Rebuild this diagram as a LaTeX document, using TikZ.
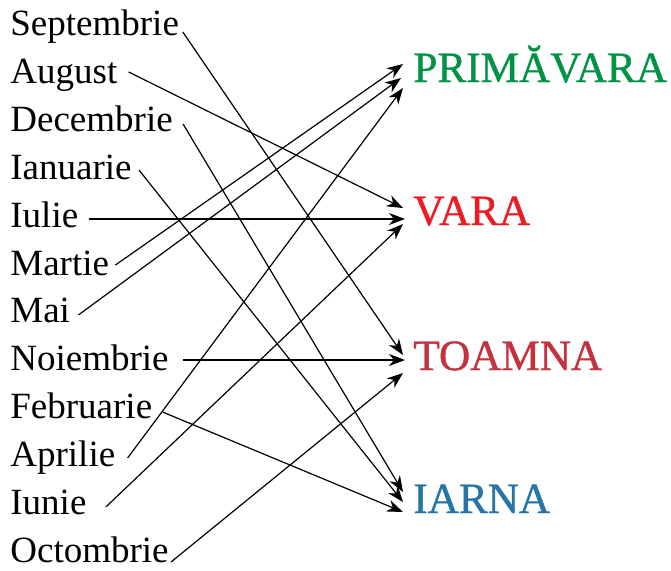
\documentclass[tikz,border=0pt]{standalone}
\usepackage{fontspec}
\setmainfont{Liberation Serif}
\newfontfamily\anofont[FakeBold=0.9]{Liberation Serif}
\usetikzlibrary{arrows.meta}
\usetikzlibrary{calc}
\definecolor{prmc}{RGB}{0,146,69}
\definecolor{vrc}{RGB}{237,28,36}
\definecolor{tmc}{RGB}{196,50,64}
\definecolor{irc}{RGB}{39,117,167}
\tikzset{mpic/.style={
  x=0.5pt,
  y=0.5pt
}}
\tikzset{mon/.style={
  inner sep=0pt,
  anchor=base west,
  font=\fontsize{18.5}{20}\selectfont,
}}
\tikzset{ano/.style={
  mon,
  font=\anofont\fontsize{21.6}{24}\selectfont,
}}
\tikzset{arr/.style={line width=0.6pt,-{Stealth[length=8pt,width=6pt,inset=2.5pt]}}}

\begin{document}
\begin{tikzpicture}[mpic]
    \useasboundingbox (0,0) rectangle (671,-570);
    % Months
    \node[mon] (sep) at (10,-35) {Septembrie};
    \node[mon] (aug) at (10,-83) {August};
    \node[mon] (dec) at (10,-131) {Decembrie};
    \node[mon] (ian) at (10,-179) {Ianuarie};
    \node[mon] (iul) at (10,-227) {Iulie};
    \node[mon] (mar) at (10,-275) {Martie};
    \node[mon] (mai) at (10,-322) {Mai};
    \node[mon] (noi) at (10,-370) {Noiembrie};
    \node[mon] (feb) at (10,-418) {Februarie};
    \node[mon] (apr) at (10,-466) {Aprilie};
    \node[mon] (iun) at (10,-514) {Iunie};
    \node[mon] (oct) at (10,-562) {Octombrie};
    % Seasons
    \node[ano,text=prmc] (prm) at (413,-82) {PRIMĂVARA};
    \node[ano,text=vrc] (vra) at (413,-225) {VARA};
    \node[ano,text=tmc] (tmn) at (413,-370) {TOAMNA};
    \node[ano,text=irc] (irn) at (413,-513) {IARNA};
    % Arrows
    \draw[arr] ($(mar.base east)+(6,10)$) -- ($(prm.base west)+(-10,18)$);
    \draw[arr] ($(mai.base east)+(8,7)$) -- ($(prm.base west)+(-12,4)$);
    \draw[arr] ($(apr.base east)+(12,8)$) -- ($(prm.base west)+(-10,-6)$);
    \draw[arr] ($(aug.base east)+(11,11)$) -- ($(vra.base west)+(-10,17)$);
    \draw[arr] ($(iul.base east)+(10,8)$) -- ($(vra.base west)+(-8,6)$);
    \draw[arr] ($(iun.base east)+(19,7)$) -- ($(vra.base west)+(-10,1)$);
    \draw[arr] ($(sep.base east)+(3.5,3)$) -- ($(tmn.base west)+(-10,15)$);
    \draw[arr] ($(noi.base east)+(14,10)$) -- ($(tmn.base west)+(-8,10)$);
    \draw[arr] ($(oct.base east)+(2,0)$) -- ($(tmn.base west)+(-10,-3)$);
    \draw[arr] ($(dec.base east)+(10,7)$) -- ($(irn.base west)+(-10,21)$);
    \draw[arr] ($(ian.base east)+(7,9)$) -- ($(irn.base west)+(-10,11)$);
    \draw[arr] ($(feb.base east)+(10,6)$) -- ($(irn.base west)+(-10,1)$);
\end{tikzpicture}
\end{document}
